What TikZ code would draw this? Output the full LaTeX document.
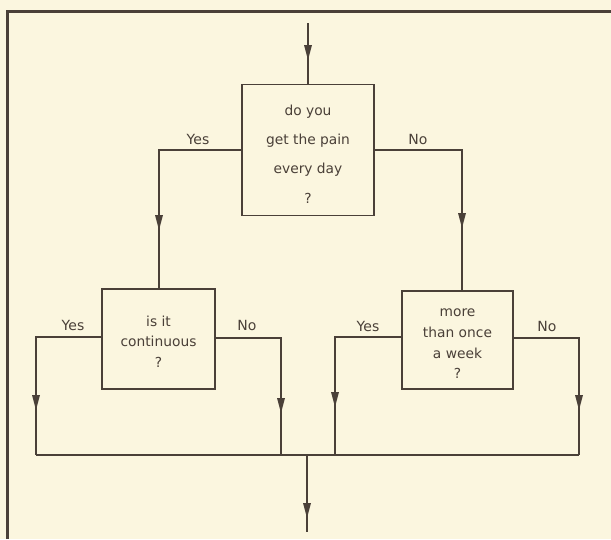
\documentclass[tikz,border=0pt]{standalone}
\usepackage{fontspec}
\setmainfont{DejaVu Sans}
\definecolor{bg}{HTML}{FBF6DF}
\definecolor{ink}{HTML}{4A4038}
\newcommand{\dtip}[1]{\fill[ink] (#1) -- ++(-4,-15) -- ++(8,0) -- cycle;}
\begin{document}
\begin{tikzpicture}[x=1pt,y=-1pt,
  conn/.style={draw=ink, line width=1.3pt},
  qbox/.style={draw=ink, line width=1.3pt, inner sep=0pt},
  qtext/.style={inner sep=0pt, align=center, text=ink},
  lbl/.style={text=ink, font=\fontsize{14}{16}\selectfont, inner sep=0pt}]
\fill[bg] (0,0) rectangle (611,539);
\useasboundingbox (0,0) rectangle (611,539);
\draw[ink, line width=3pt] (7,539) -- (7,11) -- (611,11);

% boxes
\node[qbox, minimum width=132pt, minimum height=131pt] (A) at (308,150) {};
\node[qtext, font=\fontsize{13.8}{29.3}\selectfont] (At) at ([yshift=-4pt]A.center)
  {do you\\get the pain\\every day\\?};
\node[qbox, minimum width=113pt, minimum height=100pt] (B) at (158.5,339) {};
\node[qtext, font=\fontsize{13.8}{20.5}\selectfont] (Bt) at ([yshift=-2.5pt]B.center)
  {is it\\continuous\\?};
\node[qbox, minimum width=111pt, minimum height=98pt] (C) at (457.5,340) {};
\node[qtext, font=\fontsize{13.8}{20.7}\selectfont] (Ct) at ([yshift=-4pt]C.center)
  {more\\than once\\a week\\?};

% coordinates
\coordinate (in) at (308,23);
\coordinate (tIn) at (308,60);
\coordinate (yA) at (159,150);
\coordinate (tYA) at (159,230);
\coordinate (nA) at (462,150);
\coordinate (tNA) at (462,228);
\coordinate (yB) at (36,337);
\coordinate (tYB) at (36,410);
\coordinate (bYB) at (36,455);
\coordinate (nB) at (281,338);
\coordinate (tNB) at (281,413);
\coordinate (bNB) at (281,455);
\coordinate (yC) at (335,337);
\coordinate (tYC) at (335,407);
\coordinate (bYC) at (335,455);
\coordinate (nC) at (579,338);
\coordinate (tNC) at (579,410);
\coordinate (bNC) at (579,455);
\coordinate (out) at (307,455);
\coordinate (tOut) at (307,518);
\coordinate (endOut) at (307,532);

% connectors
\draw[conn] (in) -- (A.north);
\draw[conn] (A.west |- yA) -- (yA) -- (yA |- B.north);
\draw[conn] (A.east |- nA) -- (nA) -- (nA |- C.north);
\draw[conn] (B.west |- yB) -- (yB) -- (bYB);
\draw[conn] (B.east |- nB) -- (nB) -- (bNB);
\draw[conn] (C.west |- yC) -- (yC) -- (bYC);
\draw[conn] (C.east |- nC) -- (nC) -- (bNC);
\draw[conn] (bYB) -- (bNC);
\draw[conn] (out) -- (endOut);

% arrowheads
\dtip{tIn}
\dtip{tYA}
\dtip{tNA}
\dtip{tYB}
\dtip{tNB}
\dtip{tYC}
\dtip{tNC}
\dtip{tOut}

% labels
\node[lbl] (lYA) at (198,139) {Yes};
\node[lbl] (lNA) at (418,139) {No};
\node[lbl] (lYB) at (73,325) {Yes};
\node[lbl] (lNB) at (247,325) {No};
\node[lbl] (lYC) at (368,326) {Yes};
\node[lbl] (lNC) at (547,326) {No};
\end{tikzpicture}
\end{document}
